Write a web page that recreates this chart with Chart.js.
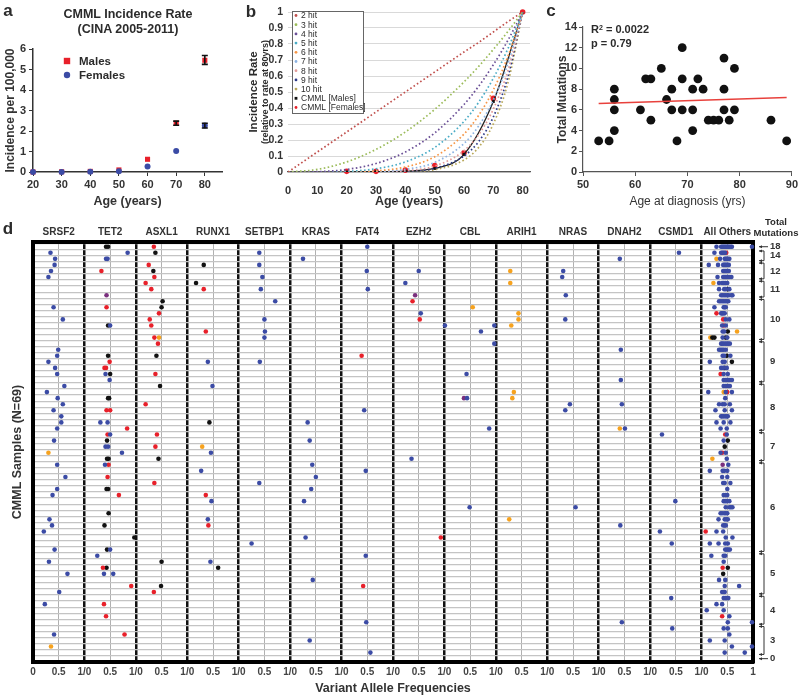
<!DOCTYPE html>
<html>
<head>
<meta charset="utf-8">
<script src="https://cdn.jsdelivr.net/npm/chart.js@4.4.1/dist/chart.umd.min.js"></script>
<style>
  body { margin: 0; width: 800px; height: 697px; position: relative; overflow: hidden; background: #fff;
         font-family: 'Liberation Sans', Arial, sans-serif; color: #2b2b2b; }
  canvas { position: absolute; }
  .t { position: absolute; font-weight: bold; white-space: nowrap; line-height: 1; }
  .rot { transform: translate(-50%, -50%) rotate(-90deg); }
  .ctr { transform: translate(-50%, -50%); }
  sup { font-size: 7px; vertical-align: top; line-height: 1; }
</style>
</head>
<body>
<canvas id="chartA" width="250" height="212" style="left:0;top:0"></canvas>
<canvas id="chartB" width="285" height="212" style="left:250px;top:0"></canvas>
<canvas id="chartC" width="270" height="212" style="left:530px;top:0"></canvas>
<canvas id="chartD" width="800" height="497" style="left:0;top:200px"></canvas>

<div class="t ctr" style="left:8px;top:10px;font-size:17px">a</div>
<div class="t ctr" style="left:128px;top:14px;font-size:12.5px">CMML Incidence Rate</div>
<div class="t ctr" style="left:128px;top:29px;font-size:12.5px">(CINA 2005-2011)</div>
<div class="t ctr" style="left:251px;top:11px;font-size:17px">b</div>
<div class="t rot" style="left:254px;top:92px;font-size:11.5px">Incidence Rate</div>
<div class="t rot" style="left:265px;top:92px;font-size:9px">(relative to rate at 80yrs)</div>
<div class="t ctr" style="left:551px;top:10px;font-size:17px">c</div>
<div class="t" style="left:591px;top:24px;font-size:11px">R<sup>2</sup> = 0.0022</div>
<div class="t" style="left:591px;top:38px;font-size:11px">p = 0.79</div>
<div class="t ctr" style="left:8px;top:228px;font-size:17px">d</div>
<div class="t ctr" style="left:776px;top:222px;font-size:9.5px">Total</div>
<div class="t ctr" style="left:776px;top:233px;font-size:9.5px">Mutations</div>

<script>
Chart.defaults.font.family = "'Liberation Sans', Arial, sans-serif";
Chart.defaults.color = '#2b2b2b';

// ---- panel a: incidence per 100,000 ----
const aAges = [20, 30, 40, 50, 60, 70, 80];
const aMales = [0, 0.01, 0.03, 0.1, 0.62, 2.38, 5.45];
const aMalesLow = [null, null, null, null, null, 2.28, 5.25];
const aMalesHigh = [null, null, null, null, null, 2.48, 5.68];
const aFemales = [0, 0.005, 0.01, 0.04, 0.27, 1.03, 2.27];
const aFemalesLow = [null, null, null, null, null, null, 2.15];
const aFemalesHigh = [null, null, null, null, null, null, 2.38];

// ---- panel b: n-hit model vs CMML (relative to rate at 80 yrs) ----
const bModelAges = [0, 10, 20, 30, 40, 50, 60, 65, 70, 75, 80];
const hit2 = [0, 0.125, 0.25, 0.375, 0.5, 0.625, 0.75, 0.81, 0.875, 0.94, 1];
const hit3 = [0, 0.016, 0.063, 0.141, 0.25, 0.391, 0.563, 0.66, 0.766, 0.879, 1];
const hit4 = [0, 0.002, 0.016, 0.053, 0.125, 0.244, 0.422, 0.536, 0.67, 0.824, 1];
const hit5 = [0, 0, 0.004, 0.02, 0.063, 0.153, 0.316, 0.436, 0.586, 0.772, 1];
const hit6 = [0, 0, 0.001, 0.007, 0.031, 0.095, 0.237, 0.354, 0.513, 0.724, 1];
const hit7 = [0, 0, 0, 0.003, 0.016, 0.06, 0.178, 0.288, 0.449, 0.679, 1];
const hit8 = [0, 0, 0, 0.001, 0.008, 0.037, 0.133, 0.234, 0.393, 0.636, 1];
const hit9 = [0, 0, 0, 0, 0.004, 0.023, 0.1, 0.19, 0.344, 0.597, 1];
const hit10 = [0, 0, 0, 0, 0.002, 0.015, 0.075, 0.154, 0.301, 0.559, 1];
const hitSeries = [hit2, hit3, hit4, hit5, hit6, hit7, hit8, hit9, hit10];
const hitLabels = ['2 hit', '3 hit', '4 hit', '5 hit', '6 hit', '7 hit', '8 hit', '9 hit', '10 hit'];
const hitColors = ['#c0504d', '#9bbb59', '#6a4f96', '#4bacc6', '#f79646', '#8db3e2', '#e29b98', '#2e3a87', '#b9a85a'];
const bAges = [20, 30, 40, 50, 60, 70, 80];
const bMales = [0, 0.002, 0.006, 0.022, 0.11, 0.44, 1];
const bFemales = [0.004, 0.004, 0.012, 0.04, 0.12, 0.46, 1];

// ---- panel c: total mutations vs age at diagnosis ----
const cAges = [53, 55, 56, 56, 56, 56, 61, 62, 63, 63, 65, 66, 67, 67, 68, 69, 69, 69, 71, 71, 71, 72, 73, 74, 75, 76, 77, 77, 77, 78, 79, 79, 86, 89];
const cMutations = [3, 3, 8, 7, 6, 4, 6, 9, 9, 5, 10, 7, 8, 6, 3, 12, 9, 6, 8, 6, 4, 9, 8, 5, 5, 5, 11, 8, 6, 5, 10, 6, 5, 3];
const cFitAges = [53, 89];
const cFitValues = [6.62, 7.2];

// ---- panel d: VAF per gene per sample row, [row, vaf, type]; type b=blue (default), r=red, k=black, o=orange, p=purple ----
const genes = ['SRSF2', 'TET2', 'ASXL1', 'RUNX1', 'SETBP1', 'KRAS', 'FAT4', 'EZH2', 'CBL', 'ARIH1', 'NRAS', 'DNAH2', 'CSMD1', 'All Others'];
const SRSF2 = [[1,.34],[2,.43],[3,.42],[4,.35],[5,.30],[10,.40],[12,.58],[17,.49],[18,.47],[19,.30],[20,.43],[21,.47],
  [23,.61],[24,.27],[25,.48],[26,.58],[27,.40],[28,.55],[29,.55],[30,.47],[32,.41],[34,.30,'o'],[36,.47],[38,.63],[40,.47],
  [41,.38],[45,.32],[46,.37],[47,.21],[50,.42],[52,.31],[54,.67],[57,.51],[59,.23],[64,.41],[66,.35,'o']];
const TET2 = [[0,.42,'k'],[0,.46,'k'],[1,.84],[2,.42],[2,.45],[4,.33,'r'],[8,.43,'p'],[10,.43,'r'],[13,.46,'k'],[13,.50],
  [18,.46,'k'],[19,.49,'r'],[20,.39,'r'],[20,.42,'r'],[21,.41],[21,.50,'k'],[22,.49],[25,.46,'k'],[25,.48,'k'],[27,.43,'r'],
  [27,.50,'r'],[29,.31],[29,.45],[30,.83,'r'],[31,.45,'r'],[31,.50],[32,.44,'k'],[33,.41],[33,.46],[34,.73],[35,.44,'k'],
  [35,.47,'k'],[36,.40],[36,.47,'r'],[38,.45,'r'],[40,.43,'k'],[40,.46,'k'],[41,.67,'r'],[44,.47,'k'],[46,.39,'k'],[48,.97,'k'],
  [50,.44,'k'],[50,.50],[51,.25],[53,.36,'r'],[53,.43,'k'],[54,.38],[54,.56],[56,.91,'r'],[59,.38,'r'],[61,.42,'r'],[64,.78,'r']];
const ASXL1 = [[0,.35,'r'],[1,.38,'k'],[3,.25,'r'],[4,.34,'k'],[5,.36,'r'],[6,.19,'r'],[7,.30,'r'],[9,.52,'k'],[10,.50,'k'],
  [11,.45,'r'],[12,.27,'r'],[13,.30,'r'],[15,.36,'r'],[15,.45,'o'],[16,.43,'r'],[18,.40,'k'],[21,.38,'r'],[23,.47,'k'],
  [26,.19,'r'],[31,.41,'r'],[33,.38,'r'],[35,.44,'k'],[39,.36,'r'],[52,.50,'k'],[56,.49,'k'],[57,.35,'r']];
const RUNX1 = [[3,.32,'k'],[6,.17,'k'],[7,.32,'r'],[14,.36,'r'],[19,.40],[23,.49],[29,.43,'k'],[33,.29,'o'],[34,.46],
  [37,.27],[41,.36,'r'],[42,.47],[45,.40],[46,.41,'r'],[52,.45],[53,.60,'k']];
const SETBP1 = [[1,.40],[3,.40],[5,.46],[7,.43],[9,.71],[12,.50],[14,.51],[15,.50],[19,.41],[39,.40],[49,.25]];
const KRAS = [[2,.25],[29,.34],[32,.38],[36,.43],[38,.50],[40,.41],[42,.27],[48,.30],[55,.44],[65,.38]];
const FAT4 = [[0,.50],[4,.49],[7,.51],[18,.39,'r'],[27,.44],[37,.47],[51,.47],[56,.42,'r'],[62,.48],[67,.56]];
const EZH2 = [[4,.50],[6,.24],[8,.43,'p'],[9,.38,'r'],[11,.54],[12,.52,'r'],[35,.36],[48,.93,'r']];
const CBL = [[10,.55,'o'],[13,.01],[13,.97],[14,.71],[16,.97],[21,.43],[25,.38,'p'],[25,.44],[30,.87],[43,.49]];
const ARIH1 = [[4,.28,'o'],[6,.28,'o'],[11,.44,'o'],[12,.44,'o'],[13,.30,'o'],[24,.35,'o'],[25,.32,'o'],[45,.26,'o']];
const NRAS = [[4,.31],[5,.29],[8,.36],[12,.35],[26,.44],[27,.35],[43,.55]];
const DNAH2 = [[2,.41],[17,.43],[22,.43],[26,.45],[30,.41,'o'],[30,.51],[46,.42],[62,.45]];
const CSMD1 = [[1,.56],[31,.23],[42,.49],[47,.19],[49,.42],[58,.41],[63,.43]];
const ALL_OTHERS = [
  [0,.29],[0,.38],[0,.40],[0,.42],[0,.44],[0,.46],[0,.48],[0,.50],[0,.52],[0,.54],[0,.57],[0,.59],[0,.98],
  [1,.25],[1,.38],[1,.40],[1,.42],[1,.44],[1,.46],[1,.48,'r'],
  [2,.29,'o'],[2,.36],[2,.45],[2,.47],[2,.49],[2,.51],[2,.54],
  [3,.14],[3,.32],[3,.42],[3,.44],[3,.46],[3,.48],[3,.50],[3,.53],
  [4,.42],[4,.44],[4,.46],[4,.48],[4,.50],[4,.53],
  [5,.31],[5,.42],[5,.44],[5,.46],[5,.48],[5,.50],[5,.52],[5,.55],[5,.58],
  [6,.23,'o'],[6,.34],[6,.40],[6,.43],[6,.46],[6,.50],
  [7,.34],[7,.44],[7,.47],[7,.54],[7,.51,'k'],
  [8,.38],[8,.41],[8,.44],[8,.47],[8,.50],[8,.53],[8,.58],[8,.60],
  [9,.34],[9,.37],[9,.40],[9,.43],[9,.46],[9,.49],[9,.52],
  [10,.25],[10,.43],[10,.45],[10,.47],
  [11,.29,'r'],[11,.38],[11,.40],[11,.42],[11,.45],
  [12,.47],[12,.54],[12,.42,'r'],
  [13,.40],[13,.47],[13,.43,'r'],
  [14,.41],[14,.44],[14,.51,'k'],[14,.69,'o'],
  [15,.17,'o'],[15,.21,'k'],[15,.25,'k'],[15,.41],[15,.50],[15,.47,'k'],
  [16,.38],[16,.40],[16,.43],[16,.46],[16,.49],[16,.52],[16,.55],
  [17,.34],[17,.37],[17,.40],[17,.43],[17,.47],
  [18,.41],[18,.44],[18,.56],[18,.49,'k'],
  [19,.16],[19,.41],[19,.45],[19,.59,'k'],
  [20,.38],[20,.42],[20,.49],[20,.45,'k'],
  [21,.43],[21,.51],[21,.37,'r'],
  [22,.43],[22,.46],[22,.49],[22,.52],[22,.55],[22,.59],
  [23,.43],[23,.46],[23,.49],[23,.52],[23,.55],
  [24,.13],[24,.47],[24,.59],[24,.43,'o'],[24,.50,'r'],
  [25,.46],
  [26,.34],[26,.41],[26,.45],[26,.55],
  [27,.27],[27,.45],[27,.59],
  [28,.38],[28,.40],[28,.43],[28,.46],[28,.49],[28,.51],
  [29,.29],[29,.43],[29,.56],
  [30,.37],[30,.49],
  [31,.49],[31,.46,'r'],
  [32,.43],[32,.51,'k'],
  [33,.45,'k'],
  [34,.37],[34,.47],[34,.40,'r'],
  [35,.49],[35,.21,'o'],
  [36,.52],[36,.41,'p'],
  [37,.16],[37,.41],[37,.44],[37,.50],
  [38,.40],[38,.50],
  [39,.42],[39,.45],[39,.56],
  [40,.50],
  [41,.43],[41,.47],[41,.50],
  [42,.43],[42,.46],[42,.49],[42,.54],
  [43,.47],[43,.54],[43,.57],[43,.60],
  [44,.37],[44,.40],[44,.44],[44,.47],[44,.50],
  [45,.33],[45,.45],[45,.48],[45,.51],
  [46,.42],[46,.45],[46,.47],
  [47,.29],[47,.42],[47,.08,'r'],
  [48,.47],[48,.60],
  [49,.16],[49,.33],[49,.46],[49,.51],
  [50,.46],[50,.49],[50,.52],[50,.55],
  [51,.19],[51,.43],[51,.46],
  [52,.43],
  [53,.41,'r'],[53,.51,'k'],
  [54,.42,'k'],
  [55,.34],[55,.46],
  [56,.45],[56,.73],
  [57,.40],[57,.43],[57,.45],
  [58,.43],[58,.46],[58,.49],[58,.52],
  [59,.29],[59,.40],
  [60,.10],[60,.43],
  [61,.54],[61,.40,'r'],
  [62,.51],[62,.98],
  [63,.43],[63,.51],
  [64,.54],
  [65,.16],[65,.45],
  [66,.59],[66,.98],
  [67,.45],[67,.84]
];
const geneRows = [SRSF2, TET2, ASXL1, RUNX1, SETBP1, KRAS, FAT4, EZH2, CBL, ARIH1, NRAS, DNAH2, CSMD1, ALL_OTHERS];
// total mutations groups (sample rows, top to bottom)
const totalLabels = ['18', '14', '12', '11', '10', '9', '8', '7', '6', '5', '4', '3', '0'];
const groupStart = [0, 1, 3, 6, 9, 16, 23, 31, 36, 51, 58, 63, 68];
const groupEnd = [0, 2, 5, 8, 15, 22, 30, 35, 50, 57, 62, 67, 68];

// ---- plugins ----
const errorBars = {
  id: 'errorBars',
  afterDatasetsDraw(chart) {
    const { ctx, scales: { x, y } } = chart;
    ctx.save();
    ctx.strokeStyle = '#111';
    ctx.lineWidth = 1.6;
    chart.data.datasets.forEach(ds => {
      if (!ds.errLow) return;
      ds.data.forEach((p, i) => {
        if (ds.errLow[i] == null) return;
        const px = x.getPixelForValue(p.x);
        const y1 = y.getPixelForValue(ds.errLow[i]);
        const y2 = y.getPixelForValue(ds.errHigh[i]);
        ctx.beginPath();
        ctx.moveTo(px, y1); ctx.lineTo(px, y2);
        ctx.moveTo(px - 3, y1); ctx.lineTo(px + 3, y1);
        ctx.moveTo(px - 3, y2); ctx.lineTo(px + 3, y2);
        ctx.stroke();
      });
    });
    ctx.restore();
  }
};

function drawMarker(ctx, kind, color, x, y, r) {
  ctx.fillStyle = color;
  ctx.beginPath();
  if (kind === 'rect') ctx.rect(x - r, y - r, 2 * r, 2 * r);
  else ctx.arc(x, y, r, 0, Math.PI * 2);
  ctx.fill();
}

const boxLegend = {
  id: 'boxLegend',
  afterDraw(chart, args, opts) {
    if (!opts.x) return;
    const ctx = chart.ctx;
    const items = chart.data.datasets.filter(ds => ds.label);
    ctx.save();
    if (opts.box) {
      ctx.fillStyle = '#fff';
      ctx.fillRect(opts.x, opts.y, opts.w, opts.h);
      ctx.strokeStyle = '#666';
      ctx.lineWidth = 1;
      ctx.strokeRect(opts.x + 0.5, opts.y + 0.5, opts.w, opts.h);
    }
    ctx.font = opts.font;
    ctx.textBaseline = 'middle';
    items.forEach((ds, i) => {
      const cy = opts.y + opts.first + i * opts.rowH;
      const color = ds.pointBackgroundColor || ds.borderColor;
      drawMarker(ctx, ds.pointStyle === 'rect' ? 'rect' : 'circle', color, opts.x + opts.mx, cy, opts.mr);
      ctx.fillStyle = '#2b2b2b';
      ctx.fillText(ds.label, opts.x + opts.tx, cy + 0.5);
    });
    ctx.restore();
  }
};

const brackets = {
  id: 'brackets',
  afterDraw(chart) {
    const ctx = chart.ctx;
    const ys = chart.scales.y2;
    const xa = chart.chartArea.right + 6, xb = xa + 5;
    ctx.save();
    ctx.strokeStyle = '#333';
    ctx.fillStyle = '#333';
    ctx.lineWidth = 1;
    const head = (x, y) => {
      ctx.beginPath();
      ctx.moveTo(x, y); ctx.lineTo(x + 3, y - 1.5); ctx.lineTo(x + 3, y + 1.5); ctx.closePath(); ctx.fill();
    };
    groupStart.forEach((s, i) => {
      const e = groupEnd[i];
      if (s === e) {
        const y = ys.getPixelForValue(s);
        ctx.beginPath(); ctx.moveTo(xa, y); ctx.lineTo(xb + 4, y); ctx.stroke();
        head(xa, y);
        return;
      }
      const y1 = ys.getPixelForValue(s - 0.3), y2 = ys.getPixelForValue(e + 0.3);
      ctx.beginPath();
      ctx.moveTo(xa, y1); ctx.lineTo(xb, y1); ctx.lineTo(xb, y2); ctx.lineTo(xa, y2);
      ctx.stroke();
      head(xa, y1); head(xa, y2);
    });
    ctx.restore();
  }
};

const boldTicks = (size) => ({ size, weight: 'bold' });

// ---- chart a ----
new Chart(document.getElementById('chartA'), {
  type: 'scatter',
  data: {
    datasets: [
      {
        label: 'Females',
        data: aAges.map((a, i) => ({ x: a, y: aFemales[i] })),
        errLow: aFemalesLow, errHigh: aFemalesHigh,
        pointStyle: 'circle', pointRadius: 3, pointBackgroundColor: '#3b4ba5', pointBorderWidth: 0,
        clip: false
      },
      {
        label: 'Males',
        data: aAges.map((a, i) => ({ x: a, y: aMales[i] })),
        errLow: aMalesLow, errHigh: aMalesHigh,
        pointStyle: 'rect', pointRadius: 3.6, pointBackgroundColor: '#e8202a', pointBorderWidth: 0,
        clip: false
      }
    ]
  },
  options: {
    animation: false, responsive: false, events: [],
    layout: { padding: { top: 49, right: 28 } },
    plugins: {
      legend: { display: false }, tooltip: { enabled: false },
      boxLegend: { x: 60, y: 47, first: 28, rowH: -14, mx: 7, mr: 3.2, tx: 19, font: 'bold 11.5px "Liberation Sans", Arial, sans-serif' }
    },
    scales: {
      x: {
        type: 'linear', min: 20, max: 86,
        afterBuildTicks: s => { s.ticks = aAges.map(v => ({ value: v })); },
        afterFit: s => { s.height = 40; },
        ticks: { font: boldTicks(11), color: '#333', padding: 2, maxRotation: 0, autoSkip: false },
        grid: { drawOnChartArea: false, tickLength: 4, color: '#333' },
        border: { color: '#333', width: 1.5 },
        title: { display: true, text: 'Age (years)', font: boldTicks(12.5), color: '#333', padding: { bottom: 3 } }
      },
      y: {
        min: 0, max: 6,
        ticks: { stepSize: 1, font: boldTicks(11), color: '#333', padding: 3 },
        afterFit: s => { s.width = 33; },
        grid: { drawOnChartArea: false, tickLength: 4, color: '#333' },
        border: { color: '#333', width: 1.5 },
        title: { display: true, text: 'Incidence per 100,000', font: boldTicks(12), color: '#333', padding: { top: 3 } }
      }
    }
  },
  plugins: [errorBars, boxLegend]
});

// ---- chart b ----
const bDatasets = hitSeries.map((vals, i) => ({
  label: hitLabels[i],
  data: bModelAges.map((a, j) => ({ x: a, y: vals[j] })),
  borderColor: hitColors[i], borderWidth: 1.7, borderDash: [1.6, 2.4],
  pointRadius: 0, showLine: true, cubicInterpolationMode: 'monotone', fill: false
}));
bDatasets.push({
  label: 'CMML [Males]',
  data: bAges.map((a, i) => ({ x: a, y: bMales[i] })),
  borderColor: '#222', borderWidth: 1.3, showLine: true, cubicInterpolationMode: 'monotone',
  pointStyle: 'rect', pointRadius: 2, pointBackgroundColor: '#111', pointBorderWidth: 0
});
bDatasets.push({
  label: 'CMML [Females]',
  data: bAges.map((a, i) => ({ x: a, y: bFemales[i] })),
  showLine: false, borderColor: '#e8202a',
  pointStyle: 'circle', pointRadius: 2.8, pointBackgroundColor: '#e8202a', pointBorderWidth: 0, clip: false
});

new Chart(document.getElementById('chartB'), {
  type: 'scatter',
  data: { datasets: bDatasets },
  options: {
    animation: false, responsive: false, events: [],
    layout: { padding: { top: 12, right: 5 } },
    plugins: {
      legend: { display: false }, tooltip: { enabled: false },
      boxLegend: { box: true, x: 42, y: 11, w: 71, h: 102, first: 4.5, rowH: 9.2, mx: 4, mr: 1.4, tx: 9, font: '8.5px "Liberation Sans", Arial, sans-serif' }
    },
    scales: {
      x: {
        type: 'linear', min: 0, max: 82.5,
        afterBuildTicks: s => { s.ticks = [0, 10, 20, 30, 40, 50, 60, 70, 80].map(v => ({ value: v })); },
        afterFit: s => { s.height = 40; },
        ticks: { font: boldTicks(11), color: '#333', padding: 4, maxRotation: 0, autoSkip: false },
        grid: { display: false },
        border: { color: '#555', width: 1.2 },
        title: { display: true, text: 'Age (years)', font: boldTicks(12.5), color: '#333', padding: { bottom: 3 } }
      },
      y: {
        min: 0, max: 1,
        ticks: { stepSize: 0.1, font: boldTicks(10.5), color: '#333', padding: 5, callback: v => String(+v.toFixed(1)) },
        afterFit: s => { s.width = 38; },
        grid: { color: '#d9d9d9', lineWidth: 1, drawTicks: false },
        border: { display: false }
      }
    }
  },
  plugins: [boxLegend]
});

// ---- chart c ----
new Chart(document.getElementById('chartC'), {
  type: 'scatter',
  data: {
    datasets: [
      {
        data: cFitAges.map((a, i) => ({ x: a, y: cFitValues[i] })),
        showLine: true, borderColor: '#e8413c', borderWidth: 1.5, pointRadius: 0
      },
      {
        data: cAges.map((a, i) => ({ x: a, y: cMutations[i] })),
        pointRadius: 4.4, pointBackgroundColor: '#111', pointBorderWidth: 0, clip: false
      }
    ]
  },
  options: {
    animation: false, responsive: false, events: [],
    layout: { padding: { top: 27, right: 8 } },
    plugins: { legend: { display: false }, tooltip: { enabled: false } },
    scales: {
      x: {
        type: 'linear', min: 50, max: 90,
        ticks: { stepSize: 10, font: boldTicks(11), color: '#333', padding: 2, maxRotation: 0 },
        afterFit: s => { s.height = 40; },
        grid: { drawOnChartArea: false, tickLength: 4, color: '#555' },
        border: { color: '#555', width: 1.2 },
        title: { display: true, text: 'Age at diagnosis (yrs)', font: { size: 12 }, color: '#333', padding: { bottom: 3 } }
      },
      y: {
        min: 0, max: 14,
        ticks: { stepSize: 2, font: boldTicks(11), color: '#333', padding: 2 },
        afterFit: s => { s.width = 53; },
        grid: { drawOnChartArea: false, tickLength: 4, color: '#555' },
        border: { color: '#555', width: 1.2 },
        title: { display: true, text: 'Total Mutations', font: boldTicks(12), color: '#333', padding: { top: 25 } }
      }
    }
  },
  plugins: []
});

// ---- chart d ----
const dColors = { b: '#3b4ba5', r: '#e8202a', k: '#111111', o: '#f6a21e', p: '#7a2f7d' };
const dGroups = { b: [], r: [], k: [], o: [], p: [] };
geneRows.forEach((rows, gi) => {
  rows.forEach(([row, vaf, type]) => {
    dGroups[type || 'b'].push({ x: gi + vaf, y: row });
  });
});
const dDatasets = Object.keys(dGroups).map(k => ({
  data: dGroups[k], pointRadius: 2.3, pointBackgroundColor: dColors[k], pointBorderWidth: 0, clip: false
}));
const vafTicks = Array.from({ length: 29 }, (_, k) => k / 2);
const rowLines = Array.from({ length: 70 }, (_, k) => k - 0.5);

new Chart(document.getElementById('chartD'), {
  type: 'scatter',
  data: { datasets: dDatasets },
  options: {
    animation: false, responsive: false, events: [],
    layout: { padding: 0 },
    plugins: { legend: { display: false }, tooltip: { enabled: false } },
    scales: {
      x: {
        type: 'linear', position: 'bottom', min: 0, max: 14,
        afterBuildTicks: s => { s.ticks = vafTicks.map(v => ({ value: v })); },
        afterFit: s => { s.height = 35; },
        ticks: {
          autoSkip: false, maxRotation: 0, minRotation: 0, padding: 4, font: boldTicks(10), color: '#444',
          callback: v => (v === 0 ? '0' : v === 14 ? '1' : Number.isInteger(v) ? '1/0' : '0.5')
        },
        grid: {
          drawTicks: false,
          color: c => (Number.isInteger(c.tick.value) ? '#111' : '#b0b0b0'),
          lineWidth: c => (Number.isInteger(c.tick.value) ? 2.5 : 1)
        },
        border: { display: true, color: '#000', width: 4 },
        title: { display: true, text: 'Variant Allele Frequencies', font: boldTicks(12.5), color: '#333', padding: { top: 0, bottom: 1 } }
      },
      x2: {
        type: 'linear', position: 'top', min: 0, max: 14,
        afterBuildTicks: s => { s.ticks = genes.map((g, i) => ({ value: i + 0.5 })); },
        afterFit: s => { s.height = 42; },
        ticks: { autoSkip: false, maxRotation: 0, minRotation: 0, padding: 4, font: boldTicks(10), color: '#333',
                 callback: v => genes[Math.floor(v)] },
        grid: { display: false, drawTicks: false },
        border: { display: true, color: '#000', width: 4 }
      },
      y: {
        type: 'linear', position: 'left', reverse: true, min: -0.78, max: 68.55,
        afterBuildTicks: s => { s.ticks = rowLines.map(v => ({ value: v })); },
        afterFit: s => { s.width = 33; },
        ticks: { display: false },
        grid: { drawTicks: false, color: '#c4c4c4', lineWidth: 1.3 },
        border: { display: true, color: '#000', width: 4 },
        title: { display: true, text: 'CMML Samples (N=69)', font: boldTicks(12.5), color: '#333', padding: { top: 10 } }
      },
      y2: {
        type: 'linear', position: 'right', reverse: true, min: -0.78, max: 68.55,
        afterBuildTicks: s => { s.ticks = groupStart.map((st, i) => ({ value: (st + groupEnd[i]) / 2 })); },
        afterFit: s => { s.width = 47; },
        ticks: {
          autoSkip: false, padding: 17, font: boldTicks(9.5), color: '#333',
          callback: v => totalLabels[groupStart.findIndex((st, i) => (st + groupEnd[i]) / 2 === v)]
        },
        grid: { display: false, drawTicks: false },
        border: { display: true, color: '#000', width: 4 }
      }
    }
  },
  plugins: [brackets]
});
</script>
</body>
</html>
